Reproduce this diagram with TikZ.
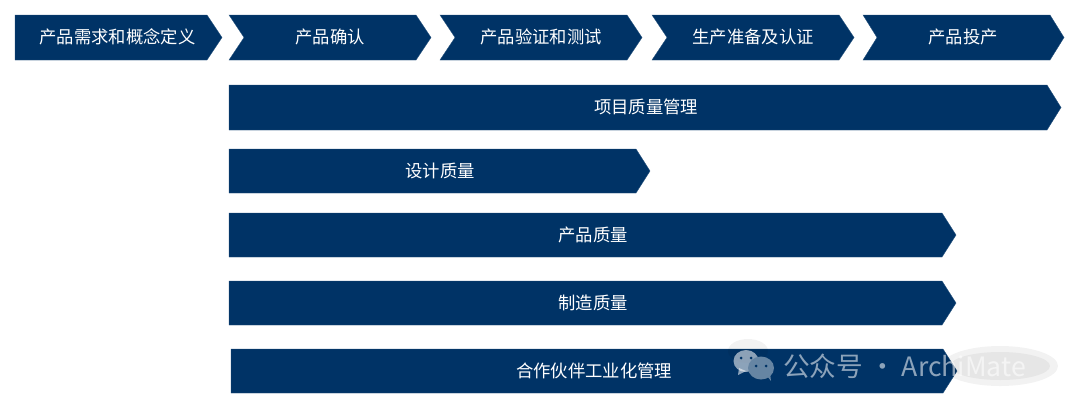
\documentclass[tikz,border=0pt]{standalone}
\usepackage{fontspec}
\setmainfont{Noto Sans CJK SC}
\usepackage{tikz}
\definecolor{navyblue}{RGB}{0,51,102}

\begin{document}
\begin{tikzpicture}[x=.75pt, y=-.75pt,
		barshape/.style={fill=navyblue, draw=navyblue!85!white, line width=.3pt},
		barlabel/.style={text=white, font=\fontsize{13}{15}\selectfont, inner sep=0pt},
		marklabel/.style={text=white, font=\fontsize{20}{24}\selectfont, inner sep=0pt, anchor=west}]
		\useasboundingbox (0, 0) rectangle (1080, 408);
		% top row
		\draw[barshape] (15, 15) -- (207, 15) -- (222, 37.5) -- (207, 60) -- (15, 60) -- cycle;
		\draw[barshape] (229, 15) -- (416, 15) -- (431, 37.5) -- (416, 60) -- (229, 60) -- (244, 37.5) -- cycle;
		\draw[barshape] (440, 15) -- (627, 15) -- (642, 37.5) -- (627, 60) -- (440, 60) -- (455, 37.5) -- cycle;
		\draw[barshape] (652, 15) -- (839, 15) -- (854, 37.5) -- (839, 60) -- (652, 60) -- (667, 37.5) -- cycle;
		\draw[barshape] (863, 15) -- (1050, 15) -- (1064, 37.5) -- (1050, 60) -- (863, 60) -- (877, 37.5) -- cycle;
		\node[barlabel] (define) at (117.5, 37) {产品需求和概念定义};
		\node[barlabel] (confirm) at (330, 37) {产品确认};
		\node[barlabel] (verify) at (541, 37) {产品验证和测试};
		\node[barlabel] (prepare) at (753, 37) {生产准备及认证};
		\node[barlabel] (launch) at (963, 37) {产品投产};
		% quality bars
		\draw[barshape] (229, 85) -- (1047, 85) -- (1061, 107.5) -- (1047, 130) -- (229, 130) -- cycle;
		\draw[barshape] (229, 149) -- (636, 149) -- (650, 171) -- (636, 193) -- (229, 193) -- cycle;
		\draw[barshape] (229, 213) -- (942, 213) -- (956, 235) -- (942, 257) -- (229, 257) -- cycle;
		\draw[barshape] (229, 281) -- (942, 281) -- (956, 303) -- (942, 325) -- (229, 325) -- cycle;
		\draw[barshape] (231, 349) -- (943, 349) -- (957, 371) -- (943, 393) -- (231, 393) -- cycle;
		\node[barlabel] (project) at (646, 107) {项目质量管理};
		\node[barlabel] (design) at (440, 171) {设计质量};
		\node[barlabel] (product) at (593, 235) {产品质量};
		\node[barlabel] (making) at (593, 303) {制造质量};
		\node[barlabel] (partner) at (594, 371) {合作伙伴工业化管理};
		% watermark
		\fill[black, opacity=.05] (1000, 366) ellipse (58 and 20);
		\fill[black, opacity=.05] (1000, 366) ellipse (50 and 14);
		\fill[black, opacity=.05] (748, 351) ellipse (20 and 12);
		\fill[white, opacity=.55] (746, 361) ellipse (12.5 and 11);
		\fill[white, opacity=.55] (739, 368) -- (738, 375) -- (746, 371) -- cycle;
		\fill[navyblue!60!white] (761, 368) ellipse (13 and 11.5);
		\fill[navyblue!60!white] (767, 376) -- (771, 381) -- (770, 373) -- cycle;
		\fill[navyblue] (741, 358) circle (1.5);
		\fill[navyblue] (751, 358) circle (1.5);
		\fill[navyblue] (756, 366) circle (1.5);
		\fill[navyblue] (766, 366) circle (1.5);
		\node[marklabel, opacity=.55] (mark) at (783, 366) {公众号 · ArchiMate};
	\end{tikzpicture}
\end{document}
